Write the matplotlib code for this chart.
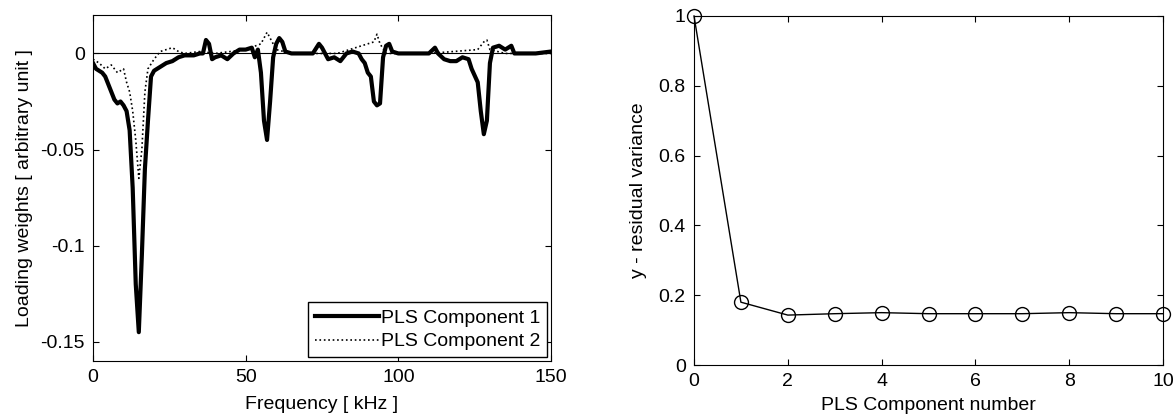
import matplotlib
matplotlib.use('Agg')
import matplotlib.pyplot as plt

plt.rcParams['font.family'] = ['Liberation Sans', 'DejaVu Sans']
plt.rcParams['font.size'] = 14

# loading weights, component 1
freq1 = [0, 1, 2, 3, 4, 5, 6, 7, 8, 9, 10, 11, 12, 13, 14, 15, 16, 17, 18, 19,
         20, 22, 24, 26, 28, 30, 33, 35, 36, 37, 38, 39, 40, 42, 44, 46, 48, 50,
         52, 53, 54, 55, 56, 57, 58, 59, 60, 61, 62, 63, 65, 68, 72, 74, 75, 77,
         79, 81, 83, 85, 87, 88, 89, 90, 91, 92, 93, 94, 95, 96, 97, 98, 100,
         105, 110, 112, 113, 115, 117, 119, 121, 123, 124, 126, 127, 128, 129,
         130, 131, 133, 135, 137, 138, 140, 145, 150]
comp1 = [-0.005, -0.008, -0.009, -0.010, -0.012, -0.016, -0.020, -0.024, -0.026,
         -0.025, -0.027, -0.030, -0.040, -0.070, -0.120, -0.145, -0.105, -0.060,
         -0.035, -0.012, -0.009, -0.007, -0.005, -0.004, -0.002, -0.001, -0.001,
         0.000, 0.000, 0.007, 0.005, -0.003, -0.002, -0.001, -0.003, 0.000, 0.002,
         0.002, 0.003, -0.002, 0.002, -0.010, -0.035, -0.045, -0.025, -0.002,
         0.005, 0.008, 0.006, 0.001, 0.000, 0.000, 0.000, 0.005, 0.003, -0.003,
         -0.002, -0.004, 0.000, 0.001, 0.000, -0.003, -0.005, -0.010, -0.012,
         -0.025, -0.027, -0.026, -0.002, 0.004, 0.005, 0.001, 0.000, 0.000,
         0.000, 0.003, 0.000, -0.003, -0.004, -0.004, -0.002, -0.003, -0.008,
         -0.015, -0.030, -0.042, -0.035, -0.005, 0.003, 0.004, 0.002, 0.004,
         0.000, 0.000, 0.000, 0.001]

# loading weights, component 2
freq2 = [0, 2, 4, 6, 8, 10, 11, 12, 13, 14, 15, 16, 17, 18, 20, 22, 24, 26, 28,
         30, 35, 40, 50, 55, 57, 58, 60, 65, 80, 92, 93, 94, 96, 110, 126, 128,
         129, 130, 135, 150]
comp2 = [-0.003, -0.005, -0.008, -0.006, -0.010, -0.008, -0.015, -0.020, -0.030,
         -0.045, -0.065, -0.050, -0.020, -0.008, -0.003, 0.001, 0.002, 0.003,
         0.001, 0.000, 0.001, 0.000, 0.002, 0.005, 0.011, 0.008, 0.002, 0.000,
         0.000, 0.006, 0.010, 0.005, 0.000, 0.000, 0.002, 0.006, 0.007, 0.002,
         0.000, 0.000]

# residual variance
n_comp = [0, 1, 2, 3, 4, 5, 6, 7, 8, 9, 10]
resid = [1.0, 0.18, 0.143, 0.147, 0.15, 0.147, 0.147, 0.147, 0.15, 0.147, 0.147]

W, H = 1176, 419
fig = plt.figure(figsize=(W / 100, H / 100), dpi=100)
ax1 = fig.add_axes([93 / W, (H - 361) / H, 458 / W, 346 / H])
ax2 = fig.add_axes([694 / W, (H - 365) / H, 469 / W, 349 / H])

ax1.axhline(0, color='black', lw=0.8)
ax1.plot(freq1, comp1, color='black', lw=3, label='PLS Component 1')
ax1.plot(freq2, comp2, color='black', lw=1.2, linestyle=':', label='PLS Component 2')
ax1.set_xlim(0, 150)
ax1.set_ylim(-0.16, 0.02)
ax1.set_xticks([0, 50, 100, 150])
ax1.set_yticks([-0.15, -0.1, -0.05, 0])
ax1.set_yticklabels(['-0.15', '-0.1', '-0.05', '0'])
ax1.set_xlabel('Frequency [ kHz ]', labelpad=7)
ax1.set_ylabel('Loading weights [ arbitrary unit ]', labelpad=5)
leg = ax1.legend(loc='lower right', fancybox=False, edgecolor='black',
                 handlelength=3.3, handletextpad=0.1, borderaxespad=0.2,
                 borderpad=0.35, framealpha=1, labelspacing=0.3)
leg.get_frame().set_linewidth(1.0)

ax2.plot(n_comp, resid, color='black', lw=1, marker='o', markersize=10,
         markerfacecolor='none', markeredgecolor='black', clip_on=False)
ax2.set_xlim(0, 10)
ax2.set_ylim(0, 1)
ax2.set_xticks([0, 2, 4, 6, 8, 10])
ax2.set_yticks([0, 0.2, 0.4, 0.6, 0.8, 1])
ax2.set_yticklabels(['0', '0.2', '0.4', '0.6', '0.8', '1'])
ax2.set_xlabel('PLS Component number', labelpad=5)
ax2.set_ylabel('y - residual variance', labelpad=8)

for ax in (ax1, ax2):
    ax.tick_params(direction='in', top=True, right=True, length=4, pad=6)
    for s in ax.spines.values():
        s.set_linewidth(0.8)

fig.savefig('out.png', dpi=100)
